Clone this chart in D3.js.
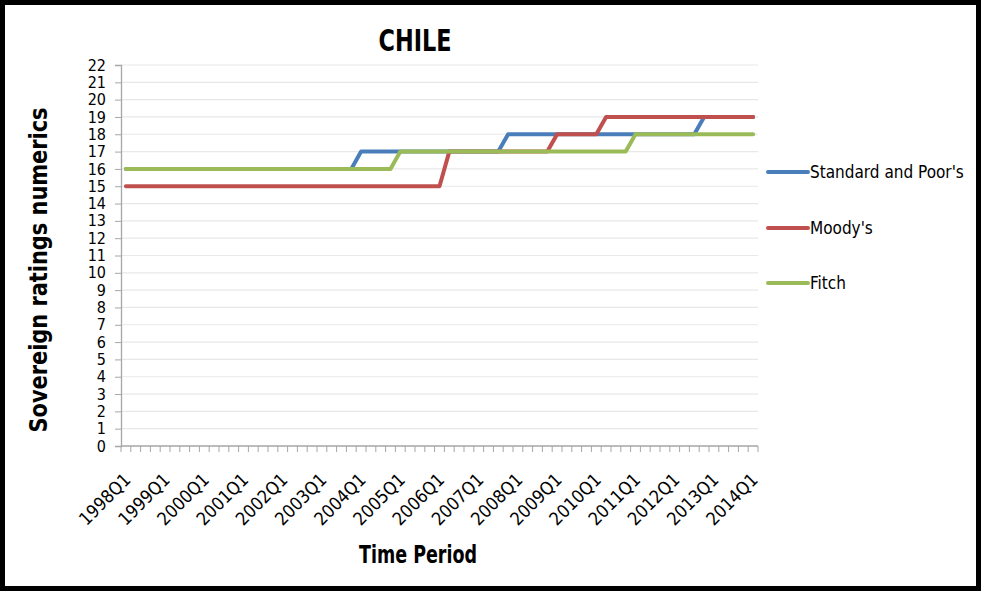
<!DOCTYPE html>
<html>
<head>
<meta charset="utf-8">
<script src="https://cdn.jsdelivr.net/npm/d3@7"></script>
<style>
  html, body { margin: 0; padding: 0; background: #fff; }
  svg { display: block; }
  text { font-family: "DejaVu Sans Condensed", "DejaVu Sans", sans-serif; }
</style>
</head>
<body>
<svg id="chart" width="982" height="592"></svg>
<script>
// Quarterly periods 1998Q1 .. 2014Q1
const years = d3.range(1998, 2015);
const quarters = [];
years.forEach(yr => [1, 2, 3, 4].forEach(q => { if (yr < 2014 || q === 1) quarters.push(yr + "Q" + q); }));

// Rating numerics per agency: [first period, last period, value] runs
const spRuns = [["1998Q1", "2003Q4", 16], ["2004Q1", "2007Q3", 17], ["2007Q4", "2012Q3", 18], ["2012Q4", "2014Q1", 19]];
const moodysRuns = [["1998Q1", "2006Q1", 15], ["2006Q2", "2008Q4", 17], ["2009Q1", "2010Q1", 18], ["2010Q2", "2014Q1", 19]];
const fitchRuns = [["1998Q1", "2004Q4", 16], ["2005Q1", "2010Q4", 17], ["2011Q1", "2014Q1", 18]];

const yTicks = d3.range(0, 23);
const seriesNames = ["Standard and Poor's", "Moody's", "Fitch"];
const seriesColors = ["#4a7ebb", "#c0504d", "#9bbb59"];

function expand(runs) {
  const out = [];
  runs.forEach(([a, b, v]) => {
    const i0 = quarters.indexOf(a), i1 = quarters.indexOf(b);
    for (let i = i0; i <= i1; i++) out.push({ period: quarters[i], value: v });
  });
  return out;
}
const series = [expand(spRuns), expand(moodysRuns), expand(fitchRuns)];

const svg = d3.select("#chart");
const plotL = 121, plotR = 758, plotT = 65, plotB = 446;

const x = d3.scaleBand().domain(quarters).range([plotL, plotR]).paddingInner(0).paddingOuter(0);
const y = d3.scaleLinear().domain([0, 22]).range([plotB, plotT]);
const cx = d => x(d) + x.bandwidth() / 2;

// frame
svg.append("rect").attr("x", 2.5).attr("y", 2.5).attr("width", 976).attr("height", 586)
  .attr("fill", "#fff").attr("stroke", "#000").attr("stroke-width", 5);

// horizontal gridlines
svg.append("g").selectAll("line").data(yTicks.filter(d => d > 0)).join("line")
  .attr("x1", plotL).attr("x2", plotR)
  .attr("y1", d => y(d)).attr("y2", d => y(d))
  .attr("stroke", "#e8e8e8").attr("stroke-width", 1.2);

// y axis
const yAxis = svg.append("g").attr("transform", `translate(${plotL},0)`)
  .call(d3.axisLeft(y).tickValues(yTicks).tickSize(6).tickPadding(9));
yAxis.select(".domain").attr("stroke", "#a6a6a6").attr("stroke-width", 1.3);
yAxis.selectAll(".tick line").attr("stroke", "#a6a6a6");
yAxis.selectAll(".tick text").attr("font-size", 16).attr("fill", "#000")
  .attr("font-family", "'DejaVu Sans Condensed', 'DejaVu Sans', sans-serif");

// x axis: tick marks between categories, a label under every Q1
const xg = svg.append("g").attr("transform", `translate(0,${plotB})`);
const boundaries = d3.range(0, quarters.length + 1).map(i => plotL + i * x.bandwidth());
xg.append("line").attr("x1", plotL).attr("x2", plotR).attr("y1", 0).attr("y2", 0)
  .attr("stroke", "#a6a6a6").attr("stroke-width", 1.3);
xg.selectAll("line.tk").data(boundaries).join("line").attr("class", "tk")
  .attr("x1", d => d).attr("x2", d => d).attr("y1", 0).attr("y2", 6)
  .attr("stroke", "#a6a6a6");
xg.selectAll("text").data(quarters.filter(q => q.endsWith("Q1"))).join("text")
  .attr("transform", d => `translate(${cx(d) + 6},35) rotate(-45)`)
  .attr("text-anchor", "end")
  .attr("font-size", 18)
  .attr("fill", "#000")
  .text(d => d);

// series lines
const line = d3.line().x(d => cx(d.period)).y(d => y(d.value));
series.forEach((s, i) => {
  svg.append("path").datum(s).attr("d", line)
    .attr("fill", "none").attr("stroke", seriesColors[i]).attr("stroke-width", 4)
    .attr("stroke-linejoin", "round").attr("stroke-linecap", "round");
});

// legend
const legendY = [172, 228, 283];
seriesNames.forEach((n, i) => {
  svg.append("line").attr("x1", 768).attr("x2", 808).attr("y1", legendY[i]).attr("y2", legendY[i])
    .attr("stroke", seriesColors[i]).attr("stroke-width", 4).attr("stroke-linecap", "round");
  svg.append("text").attr("x", 810).attr("y", legendY[i] + 6).attr("font-size", 17).attr("fill", "#000").text(n);
});

// titles
svg.append("text").attr("x", 415).attr("y", 51).attr("text-anchor", "middle")
  .attr("font-size", 30).attr("font-weight", "bold")
  .attr("textLength", 73).attr("lengthAdjust", "spacingAndGlyphs").text("CHILE");
svg.append("text").attr("x", 418).attr("y", 563).attr("text-anchor", "middle")
  .attr("font-size", 24).attr("font-weight", "bold")
  .attr("textLength", 118).attr("lengthAdjust", "spacingAndGlyphs").text("Time Period");
svg.append("text").attr("transform", "translate(47,270) rotate(-90)").attr("text-anchor", "middle")
  .attr("font-size", 24).attr("font-weight", "bold")
  .attr("textLength", 325).attr("lengthAdjust", "spacingAndGlyphs").text("Sovereign ratings numerics");
</script>
</body>
</html>
